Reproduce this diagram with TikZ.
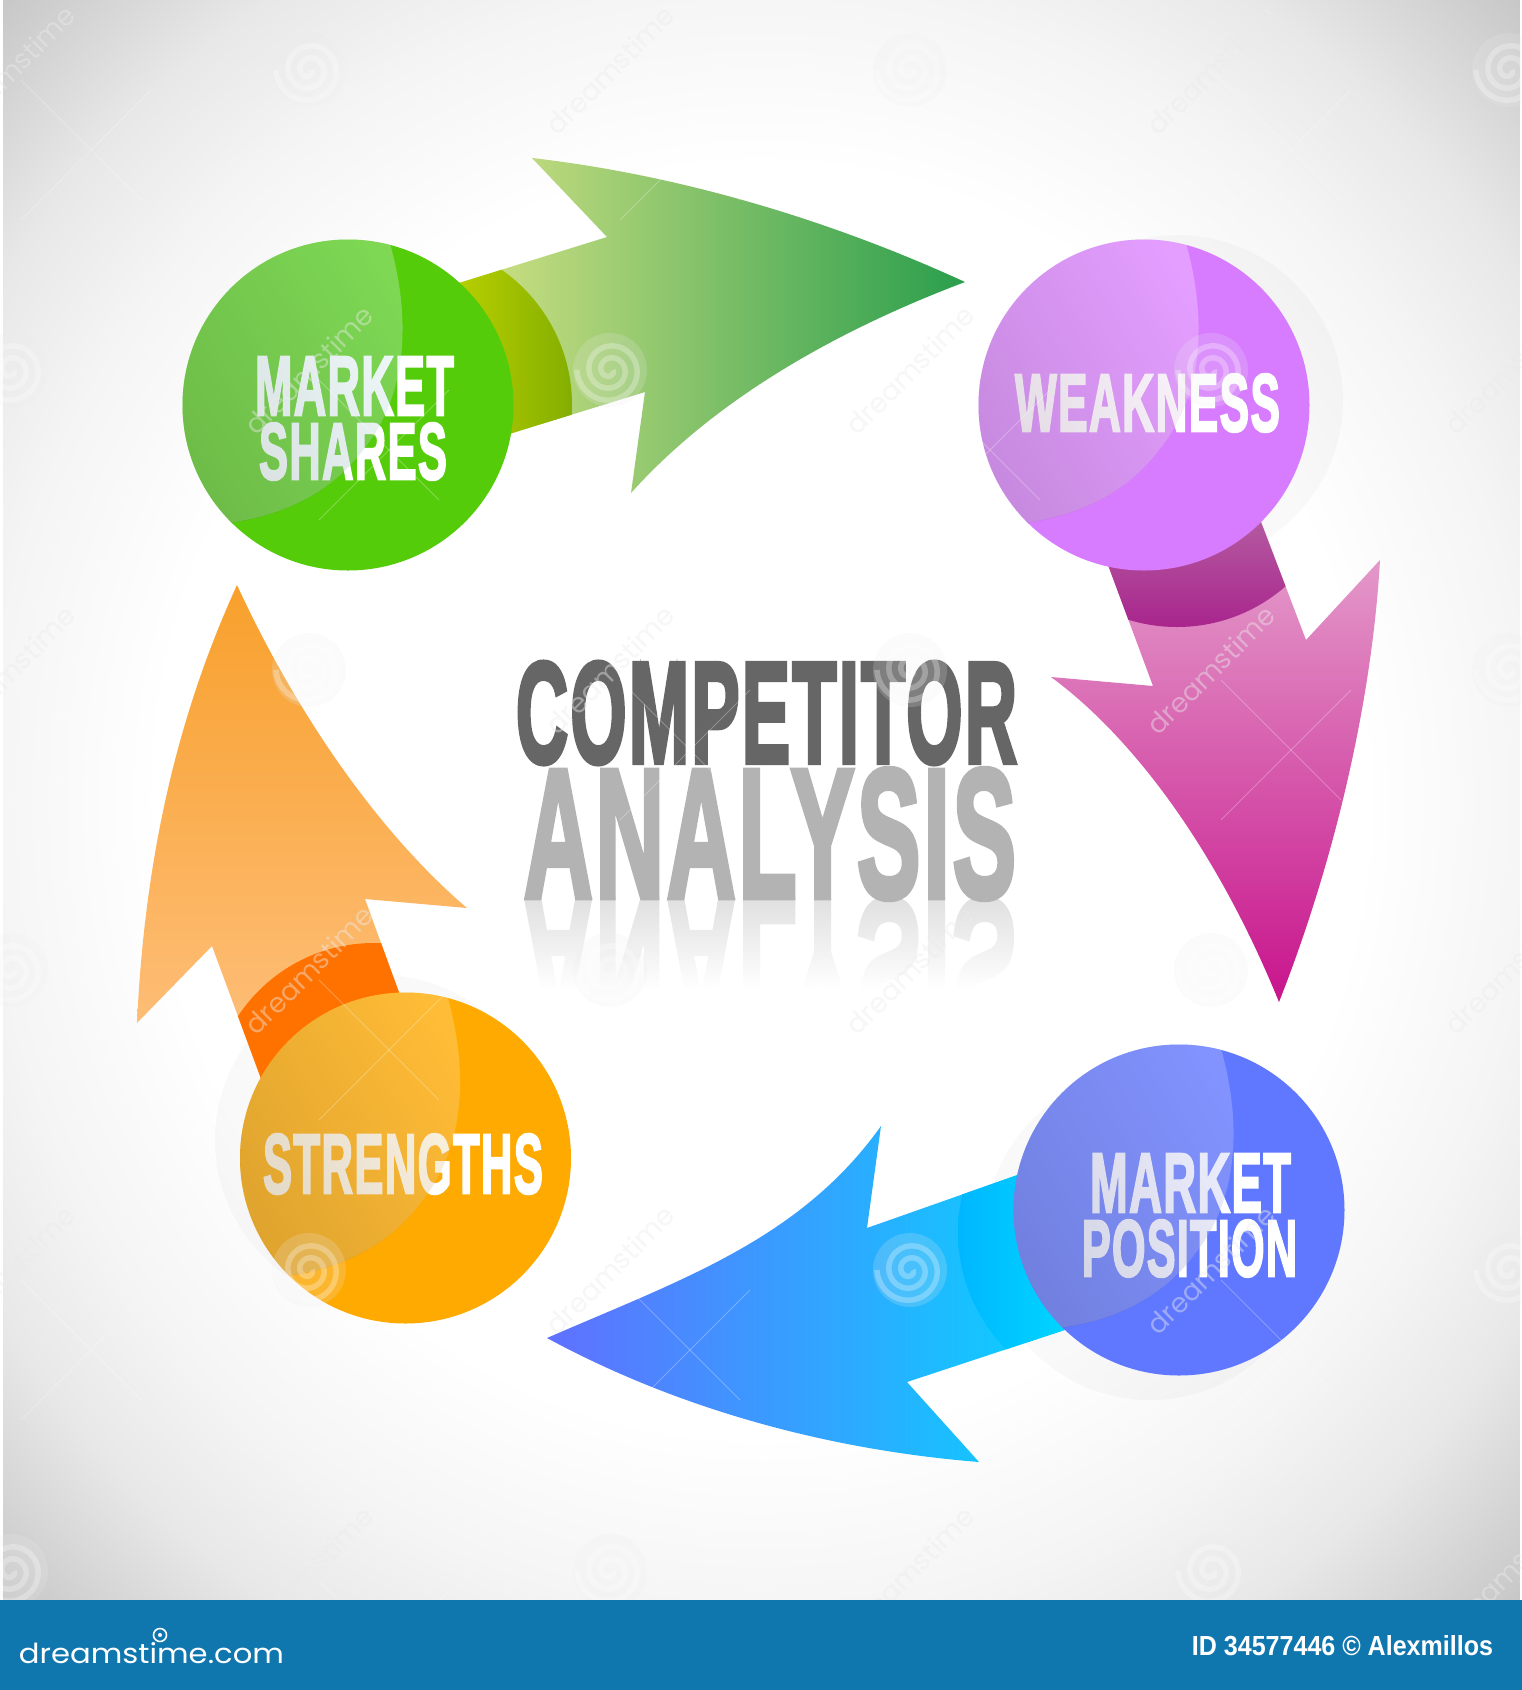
\documentclass[tikz,border=0pt]{standalone}
\usepackage{fontspec}
\usepackage{graphicx}
\usetikzlibrary{fadings,shadings}
\setmainfont{Liberation Sans}
\newfontfamily\condfont[BoldFeatures={FakeBold=3,LetterSpace=3}]{Liberation Sans}
\newfontfamily\bigfont[BoldFeatures={FakeBold=3.5,LetterSpace=3}]{Liberation Sans}
\newfontfamily\logofont{Poppins}
\newcommand{\fittxt}[3]{\resizebox*{#1pt}{#2pt}{\condfont\bfseries #3}}
\newcommand{\fitbig}[3]{\resizebox*{#1pt}{#2pt}{\bigfont\bfseries #3}}
\definecolor{gbase}{RGB}{85,204,10}
\definecolor{gtint}{RGB}{215,244,243}
\definecolor{pbase}{RGB}{216,124,255}
\definecolor{ptint}{RGB}{255,231,255}
\definecolor{bbase}{RGB}{95,120,255}
\definecolor{btint}{RGB}{205,207,255}
\definecolor{obase}{RGB}{255,170,0}
\definecolor{otint}{RGB}{255,227,170}
\definecolor{banner}{RGB}{16,118,174}
\definecolor{titledark}{RGB}{102,102,102}
\definecolor{titlelight}{RGB}{179,179,179}
\pgfdeclareradialshading{bgshade}{\pgfpointorigin}{color(0bp)=(white); color(14bp)=(white); color(18bp)=(black!4); color(21bp)=(black!9); color(25bp)=(black!22); color(50bp)=(black!22)}
\tikzfading[name=reflfade, top color=transparent!40, bottom color=transparent!0]
\tikzfading[name=lensfade, left color=transparent!87, middle color=transparent!100, right color=transparent!100]
% arrow outlines
\newcommand{\greenarrow}{(430,292) -- (607,237) -- (532,158) .. controls (680,175) and (830,220) .. (965,282) .. controls (825,335) and (710,405) .. (631,493) -- (645,392) -- (480,443) -- cycle}
\newcommand{\magentaarrow}{(1095,530) -- (1153,686) -- (1051,677) .. controls (1130,735) and (1215,845) .. (1279,1002) .. controls (1335,860) and (1372,700) .. (1380,560) -- (1306,640) -- (1245,480) -- cycle}
\newcommand{\bluearrow}{(1060,1160) -- (867,1228) -- (881,1126) .. controls (800,1240) and (680,1280) .. (547,1338) .. controls (680,1410) and (830,1450) .. (979,1462) -- (907,1382) -- (1110,1315) -- cycle}
\newcommand{\orangearrow}{(280,1130) -- (212,946) -- (137,1023) .. controls (145,850) and (180,710) .. (237,585) .. controls (290,700) and (370,825) .. (467,908) -- (365,899) -- (420,1050) -- cycle}
\newcommand{\lensedge}{(38,-175) .. controls (65,-90) and (60,-10) .. (15,45) .. controls (-15,85) and (-60,110) .. (-120,118) -- (-190,130) -- (-190,-190) -- cycle}
\newcommand{\lensat}[3]{%
  \begin{scope}[shift={(#1,#2)}]
    \clip (0,0) circle (165.5pt);
    \fill[#3, opacity=.32] \lensedge;
    \fill[black, path fading=lensfade, fading angle=35] \lensedge;
  \end{scope}}
\tikzset{
  ball/.style={circle, inner sep=0pt, minimum size=331pt},
  caption/.style={inner sep=0pt, text=white},
  softshadow/.style={fill=black, opacity=.025},
  wmline/.style={white, opacity=.28, line width=.8pt},
  wmspiral/.pic={
    \fill[black, opacity=.015] (0,0) circle (37pt);
    \fill[white, opacity=.18] (0,0) circle (37pt);
    \draw[white, opacity=.28, line width=5.5pt] plot[domain=0:900, samples=90, smooth, variable=\t] ({(3+.0335*\t)*cos(\t)},{(3+.0335*\t)*sin(\t)});
  },
  wmword/.pic={
    \node[inner sep=0pt, rotate=45, text=black, opacity=.05] {\resizebox{168pt}{!}{\logofont dreamstime}};
    \node[inner sep=0pt, rotate=45, text=white, opacity=.4] {\resizebox{168pt}{!}{\logofont dreamstime}};
  }
}
\begin{document}
\begin{tikzpicture}[x=1pt,y=-1pt]
\useasboundingbox (0,0) rectangle (1522,1690);
% background
\begin{scope}
  \clip (0,0) rectangle (1522,1600);
  \shade[shading=bgshade] (761,800) ellipse (1076pt and 1131pt);
\end{scope}
\fill[white] (0,0) rectangle (2.5,1600);
\fill[white] (1519.5,0) rectangle (1522,1600);
\fill[banner] (0,1600) rectangle (1522,1690);
% soft shadows
\fill[softshadow] (1178,400) circle (165pt);
\fill[softshadow] (1150,1235) circle (165pt);
\fill[softshadow] (380,1140) circle (165pt);
% green arrow
\shade[left color={rgb,255:red,222;green,230;blue,136}, middle color={rgb,255:red,136;green,200;blue,100}, right color={rgb,255:red,42;green,158;blue,76}] \greenarrow;
\begin{scope}
  \clip \greenarrow;
  \clip (407,405) circle (165pt);
  \shade[left color={rgb,255:red,182;green,206;blue,0}, right color={rgb,255:red,128;green,172;blue,0}] (460,230) rectangle (580,450);
\end{scope}
% magenta arrow
\shade[top color={rgb,255:red,232;green,176;blue,212}, bottom color={rgb,255:red,200;green,20;blue,140}] \magentaarrow;
\begin{scope}
  \clip \magentaarrow;
  \clip (1177,462) circle (165pt);
  \shade[top color={rgb,255:red,180;green,90;blue,160}, bottom color={rgb,255:red,168;green,36;blue,140}] (1090,520) rectangle (1300,630);
\end{scope}
% blue arrow
\shade[left color={rgb,255:red,96;green,112;blue,255}, middle color={rgb,255:red,44;green,176;blue,255}, right color={rgb,255:red,0;green,220;blue,255}] \bluearrow;
\begin{scope}
  \clip \bluearrow;
  \clip (1125,1232) circle (167pt);
  \shade[left color={rgb,255:red,0;green,180;blue,255}, right color={rgb,255:red,0;green,216;blue,255}] (950,1170) rectangle (1075,1360);
\end{scope}
% orange arrow
\shade[top color={rgb,255:red,248;green,160;blue,44}, bottom color={rgb,255:red,255;green,196;blue,136}] \orangearrow;
\begin{scope}
  \clip \orangearrow;
  \clip (374,1106) circle (163pt);
  \fill[fill={rgb,255:red,255;green,114;blue,0}] (220,930) rectangle (430,1100);
\end{scope}
% balls
\node[ball, fill=gbase] (shares) at (348,405) {};
\node[ball, fill=pbase] (weak) at (1144,405) {};
\node[ball, fill=bbase] (position) at (1179,1210) {};
\node[ball, fill=obase] (strong) at (405.5,1158) {};
% ball captions
\node[caption] (tmarket) at (354.5,386) {\fittxt{199}{58}{MARKET}};
\node[caption] (tshares) at (353,451.5) {\fittxt{188}{57}{SHARES}};
\node[caption] (tweak) at (1147.5,403) {\fittxt{265}{58}{WEAKNESS}};
\node[caption] (tmarket2) at (1190.5,1183) {\fittxt{201}{58}{MARKET}};
\node[caption] (tpos) at (1189.5,1248.5) {\fittxt{215}{57}{POSITION}};
\node[caption] (tstrong) at (403,1164) {\fittxt{280}{60}{STRENGTHS}};
% highlights
\lensat{348}{405}{gtint}
\lensat{1144}{405}{ptint}
\lensat{1179}{1210}{btint}
\lensat{405.5}{1158}{otint}
% title
\node[inner sep=0pt, text=titlelight] (reflect) at (770,964) {\scalebox{1}[-1]{\fitbig{492}{130}{ANALYSIS}}};
\fill[white, path fading=reflfade] (522,899) rectangle (1030,988);
\fill[white] (522,988) rectangle (1030,1040);
\node[inner sep=0pt, text=titledark] (competitor) at (766.5,713) {\fitbig{501}{102}{COMPETITOR}};
\node[inner sep=0pt, text=titlelight] (analysis) at (770,834) {\fitbig{492}{130}{ANALYSIS}};
% watermark
\foreach \wx/\wy in {309/70,910/70,1509/70,11/370,610/370,1211/370,309/670,910/670,1509/670,11/970,610/970,1211/970,309/1270,910/1270,1509/1270,11/1571,610/1571,1211/1571}
  {\pic at (\wx,\wy) {wmspiral};}
\foreach \wx/\wy in {11/70,610/70,1211/70,309/370,910/370,1509/370,11/670,610/670,1211/670,309/970,910/970,1509/970,11/1270,610/1270,1211/1270,309/1571,910/1571,1509/1571}
  {\pic at (\wx,\wy) {wmword};
   \draw[wmline] (\wx+10,\wy+10) -- (\wx+130,\wy+130);
   \draw[wmline] (\wx+10,\wy+150) -- (\wx+140,\wy+20);
  }
\fill[banner] (0,1600) rectangle (1522,1690);
% banner text
\node[inner sep=0pt, text=white] (logo) at (151.5,1653) {\resizebox{265pt}{21pt}{\logofont dreamstime.com}};
\draw[white, line width=1.6pt] (160,1635) circle (6.5pt);
\fill[white] (160,1635) circle (2pt);
\node[inner sep=0pt, text=white] (idline) at (1342.5,1646) {\resizebox{301pt}{20pt}{\bfseries ID 34577446 © Alexmillos}};
\end{tikzpicture}
\end{document}
